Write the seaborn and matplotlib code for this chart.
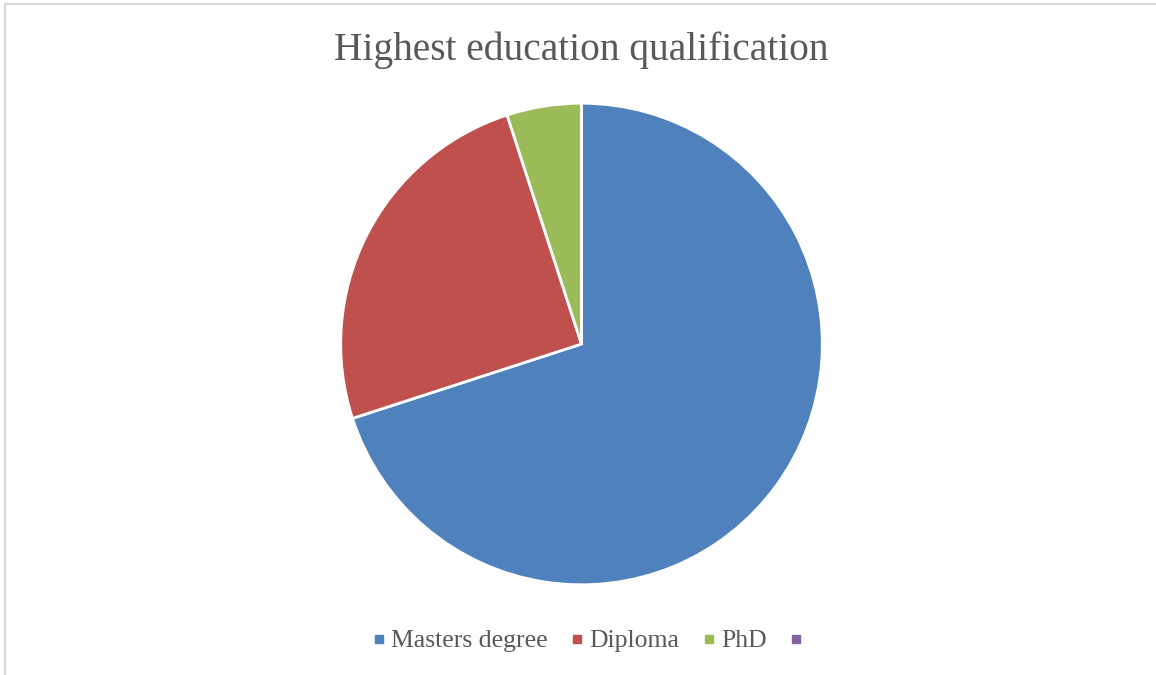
import matplotlib
matplotlib.use("Agg")
import matplotlib.pyplot as plt
from matplotlib.lines import Line2D
import seaborn as sns

# Survey results: highest education qualification (share of respondents, %)
categories = ["Masters degree", "Diploma", "PhD", ""]
shares = [70, 25, 5, 0]
colors = ["#4F81BD", "#C0504D", "#9BBB59", "#8064A2"]
title = "Highest education qualification"

sns.set_theme(style="white")
plt.rcParams["font.family"] = ["Liberation Serif", "DejaVu Serif"]

palette = sns.color_palette(colors)
text_color = "#595959"

fig = plt.figure(figsize=(11.56, 6.75), dpi=100)
fig.patch.set_facecolor("white")

# light frame on the top and left edges of the chart area
fig.add_artist(Line2D([0.004, 0.004], [0.0, 0.994], transform=fig.transFigure,
                      color="#D9D9D9", linewidth=1.6))
fig.add_artist(Line2D([0.004, 1.0], [0.994, 0.994], transform=fig.transFigure,
                      color="#D9D9D9", linewidth=1.6))

W, H = 1156, 675
cx, cy, r = 581.5, 344, 242
ax = fig.add_axes([(cx - r) / W, (H - cy - r) / H, 2 * r / W, 2 * r / H])
ax.pie(shares, colors=palette, startangle=90, counterclock=False,
       radius=1.0, wedgeprops=dict(edgecolor="white", linewidth=2.0))
ax.set_xlim(-1.005, 1.005)
ax.set_ylim(-1.005, 1.005)
ax.set_aspect("equal")
ax.axis("off")

fig.text(cx / W, 1 - 50 / H, title, ha="center", va="center",
         fontsize=28.4, color=text_color)

handles = [Line2D([], [], marker="s", linestyle="none", markersize=6,
                  markerfacecolor=c, markeredgecolor=c) for c in palette]
fig.legend(handles, categories, loc="center", bbox_to_anchor=(0.5112, 1 - 641 / H),
           ncol=4, frameon=False, fontsize=18.5, labelcolor=text_color,
           handletextpad=0.27, columnspacing=0.95, handlelength=0.4)

fig.savefig("out.png", dpi=100, facecolor="white")
